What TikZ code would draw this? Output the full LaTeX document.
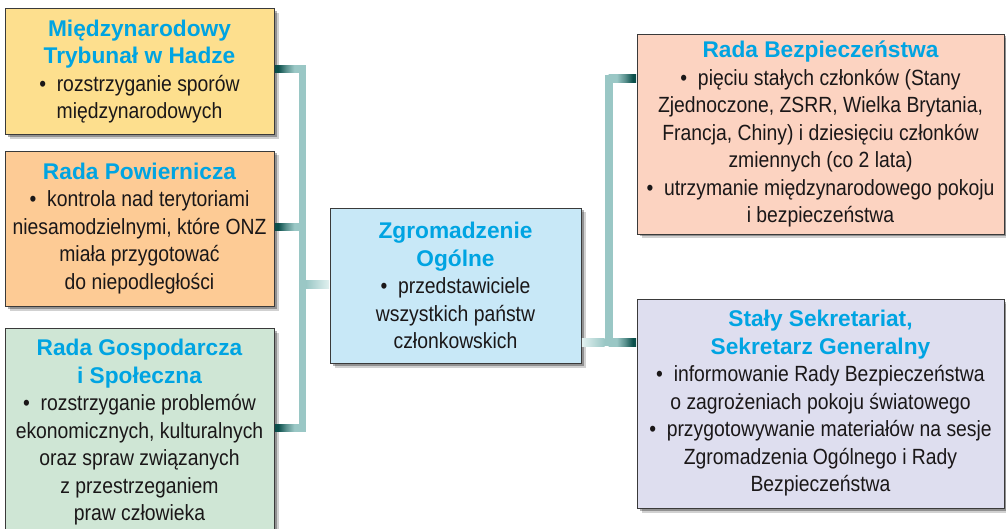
\documentclass[tikz,border=0pt]{standalone}
\usepackage{fontspec}
\setmainfont{Liberation Sans}[FakeStretch=0.88]
\newfontfamily\titlef{Liberation Sans}
\usetikzlibrary{shadows,calc}
\definecolor{cyel}{HTML}{FDDF8E}
\definecolor{corg}{HTML}{FDCB95}
\definecolor{cgrn}{HTML}{CFE6D5}
\definecolor{cblu}{HTML}{C8E8F7}
\definecolor{csal}{HTML}{FCD3C1}
\definecolor{clav}{HTML}{DEDEEF}
\definecolor{tblue}{HTML}{00A4E2}
\definecolor{txt}{HTML}{1A1718}
\definecolor{bord}{HTML}{3A3A3A}
\definecolor{tlight}{HTML}{9AC7C5}
\definecolor{tdark}{HTML}{0B4F4B}
\definecolor{tpale}{HTML}{E2F1F0}
\pgfdeclarehorizontalshading{darkleft}{100bp}{color(0bp)=(tdark); color(25bp)=(tdark); color(31bp)=(tdark); color(45bp)=(tdark!45!tlight); color(60bp)=(tlight); color(100bp)=(tlight)}
\pgfdeclarehorizontalshading{darkright}{100bp}{color(0bp)=(tlight); color(40bp)=(tlight); color(55bp)=(tdark!45!tlight); color(69bp)=(tdark); color(75bp)=(tdark); color(100bp)=(tdark)}
\pgfdeclarehorizontalshading{paleleft}{100bp}{color(0bp)=(tpale); color(25bp)=(tpale); color(75bp)=(tlight); color(100bp)=(tlight)}
\pgfdeclarehorizontalshading{paleright}{100bp}{color(0bp)=(tlight); color(25bp)=(tlight); color(75bp)=(tpale); color(100bp)=(tpale)}
\newcommand\ttl[1]{{\titlef\bfseries\fontsize{22.7}{27.5}\selectfont\color{tblue}#1}}
\begin{document}
\begin{tikzpicture}[x=1pt,y=-1pt,
  box/.style={draw=bord, line width=0.9pt, inner sep=0pt, align=center, text=txt,
    font=\fontsize{22}{27.5}\selectfont,
    drop shadow={shadow xshift=4.5pt,shadow yshift=-4.5pt,opacity=0.18,fill=black},
    drop shadow={shadow xshift=2.5pt,shadow yshift=-2.5pt,opacity=0.3,fill=black}}]
\useasboundingbox (0,0) rectangle (1006,529);
\clip (0,0) rectangle (1006,529);
\fill[white] (0,0) rectangle (1006,529);

\node[box, fill=cyel, minimum width=269pt, minimum height=126pt] (b1) at (139.5,71.5)
  {\ttl{Międzynarodowy}\\\ttl{Trybunał w Hadze}\\•\ \ rozstrzyganie sporów\\międzynarodowych};
\node[box, fill=corg, minimum width=269pt, minimum height=155pt] (b2) at (139.5,228.5)
  {\ttl{Rada Powiernicza}\\•\ \ kontrola nad terytoriami\\niesamodzielnymi, które ONZ\\miała przygotować\\do niepodległości};
\node[box, fill=cgrn, minimum width=269pt, minimum height=209pt] (b3) at (139.5,432.5)
  {\ttl{Rada Gospodarcza}\\\ttl{i Społeczna}\\•\ \ rozstrzyganie problemów\\ekonomicznych, kulturalnych\\oraz spraw związanych\\z przestrzeganiem\\praw człowieka};
\node[box, fill=cblu, minimum width=251pt, minimum height=155pt] (c) at (455.5,285.5)
  {\ttl{Zgromadzenie}\\\ttl{Ogólne}\\•\ \ przedstawiciele\\wszystkich państw\\członkowskich};
\node[box, fill=csal, minimum width=367pt, minimum height=200pt] (r1) at (820.5,134)
  {\ttl{Rada Bezpieczeństwa}\\•\ \ pięciu stałych członków (Stany\\Zjednoczone, ZSRR, Wielka Brytania,\\Francja, Chiny) i dziesięciu członków\\zmiennych (co 2 lata)\\•\ \ utrzymanie międzynarodowego pokoju\\i bezpieczeństwa};
\node[box, fill=clav, minimum width=367pt, minimum height=209pt] (r2) at (820.5,403.5)
  {\ttl{Stały Sekretariat,}\\\ttl{Sekretarz Generalny}\\•\ \ informowanie Rady Bezpieczeństwa\\o zagrożeniach pokoju światowego\\•\ \ przygotowywanie materiałów na sesje\\Zgromadzenia Ogólnego i Rady\\Bezpieczeństwa};

\coordinate (L1) at (302.5,69);
\coordinate (L2) at (302.5,227);
\coordinate (Lc) at (302.5,284.5);
\coordinate (L3) at (302.5,428);
\coordinate (R1) at (608.5,79);
\coordinate (R2) at (608.5,342);

% left trunk
\fill[tlight] ($(L1)+(-3.6,-3.6)$) rectangle ($(L3)+(3.6,3.6)$);
\shade[shading=darkleft] ($(b1.east|-L1)+(0.5,-3.6)$) rectangle ($(L1)+(0,3.6)$);
\shade[shading=darkleft] ($(b2.east|-L2)+(0.5,-3.6)$) rectangle ($(L2)+(0,3.6)$);
\shade[shading=darkleft] ($(b3.east|-L3)+(0.5,-3.6)$) rectangle ($(L3)+(0,3.6)$);
\shade[shading=paleright] ($(Lc)+(3.6,-3.6)$) rectangle ($(c.west|-Lc)+(-0.5,3.6)$);

% right trunk
\fill[tlight] ($(R1)+(-4,-4)$) rectangle ($(R2)+(4,4)$);
\shade[shading=darkright] ($(R1)+(0,-4)$) rectangle ($(r1.west|-R1)+(-0.5,4)$);
\shade[shading=darkright] ($(R2)+(0,-4)$) rectangle ($(r2.west|-R2)+(-0.5,4)$);
\shade[shading=paleleft] ($(c.east|-R2)+(0.5,-4)$) rectangle ($(R2)+(-4,4)$);
\end{tikzpicture}
\end{document}
